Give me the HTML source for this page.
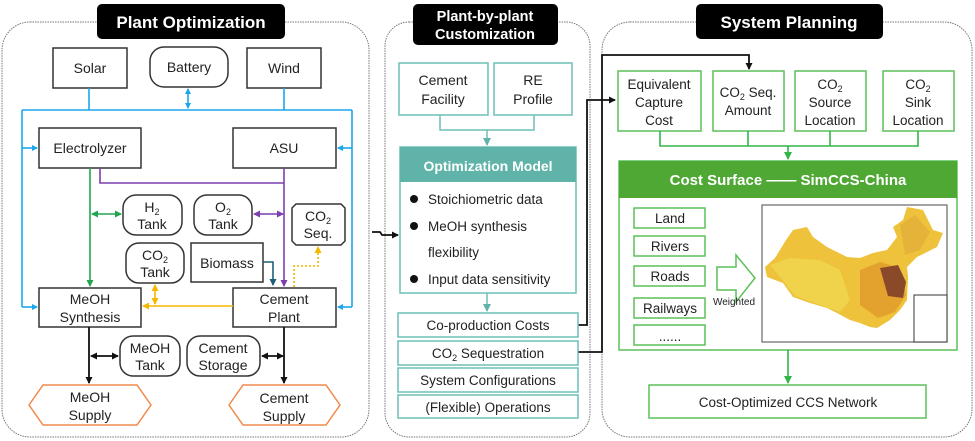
<!DOCTYPE html>
<html><head><meta charset="utf-8"><style>
html,body{margin:0;padding:0;background:#fff}
svg{display:block}
text{font-family:"Liberation Sans",sans-serif;fill:#222}
</style></head><body>
<svg width="975" height="441" viewBox="0 0 975 441" xmlns="http://www.w3.org/2000/svg">
<defs>
<marker id="ab" markerWidth="6" markerHeight="6" refX="5" refY="3" orient="auto-start-reverse" markerUnits="userSpaceOnUse"><path d="M0,0 L6,3 L0,6 z" fill="#1aa7ec"/></marker>
<marker id="ag" markerWidth="7" markerHeight="7" refX="6" refY="3.5" orient="auto-start-reverse" markerUnits="userSpaceOnUse"><path d="M0,0 L7,3.5 L0,7 z" fill="#21a650"/></marker>
<marker id="ap" markerWidth="7" markerHeight="7" refX="6" refY="3.5" orient="auto-start-reverse" markerUnits="userSpaceOnUse"><path d="M0,0 L7,3.5 L0,7 z" fill="#7b3fb0"/></marker>
<marker id="ao" markerWidth="7" markerHeight="7" refX="6" refY="3.5" orient="auto-start-reverse" markerUnits="userSpaceOnUse"><path d="M0,0 L7,3.5 L0,7 z" fill="#f5b700"/></marker>
<marker id="ak" markerWidth="7" markerHeight="7" refX="6" refY="3.5" orient="auto-start-reverse" markerUnits="userSpaceOnUse"><path d="M0,0 L7,3.5 L0,7 z" fill="#111"/></marker>
<marker id="at" markerWidth="7" markerHeight="7" refX="6" refY="3.5" orient="auto" markerUnits="userSpaceOnUse"><path d="M0,0 L7,3.5 L0,7 z" fill="#1d5f7a"/></marker>
<marker id="aq" markerWidth="8" markerHeight="8" refX="7" refY="4" orient="auto" markerUnits="userSpaceOnUse"><path d="M0,0 L8,4 L0,8 z" fill="#5fb3a9"/></marker>
<marker id="agg" markerWidth="8" markerHeight="8" refX="7" refY="4" orient="auto" markerUnits="userSpaceOnUse"><path d="M0,0 L8,4 L0,8 z" fill="#33b54a"/></marker>
</defs>

<!-- Panels -->
<rect x="2" y="22" width="367" height="415" rx="28" fill="none" stroke="#777" stroke-width="1" stroke-dasharray="1.5,1"/>
<rect x="385" y="22" width="205" height="415" rx="24" fill="none" stroke="#777" stroke-width="1" stroke-dasharray="1.5,1"/>
<rect x="602" y="22" width="370" height="415" rx="28" fill="none" stroke="#777" stroke-width="1" stroke-dasharray="1.5,1"/>

<!-- Titles -->
<rect x="97" y="4" width="188" height="35" rx="5" fill="#000"/>
<text x="191" y="28" font-size="17" font-weight="bold" text-anchor="middle" style="fill:#fff">Plant Optimization</text>
<rect x="413" y="4" width="145" height="41" rx="5" fill="#000"/>
<text x="485" y="21" font-size="14.5" font-weight="bold" text-anchor="middle" style="fill:#fff">Plant-by-plant</text>
<text x="485" y="39" font-size="14.5" font-weight="bold" text-anchor="middle" style="fill:#fff">Customization</text>
<rect x="696" y="4" width="187" height="35" rx="5" fill="#000"/>
<text x="789" y="28" font-size="17" font-weight="bold" text-anchor="middle" style="fill:#fff">System Planning</text>

<!-- Panel 1 -->
<g stroke="#333" stroke-width="1.5" fill="#fff">
<rect x="53" y="48" width="74" height="40"/>
<rect x="150" y="47" width="78" height="40" rx="14"/>
<rect x="247" y="48" width="74" height="40"/>
<rect x="39" y="128" width="102" height="40"/>
<rect x="233" y="128" width="103" height="40"/>
<rect x="123" y="195" width="59" height="40" rx="13"/>
<rect x="194" y="195" width="58" height="40" rx="13"/>
<path d="M296,204 H341 L345,208 V241 L341,245 H296 L292,241 V208 Z"/>
<rect x="126" y="243" width="58" height="40" rx="13"/>
<rect x="191" y="243" width="72" height="39"/>
<rect x="39" y="288" width="102" height="39"/>
<rect x="233" y="288" width="103" height="39"/>
<rect x="120" y="336" width="60" height="40" rx="13"/>
<rect x="187" y="336" width="73" height="40" rx="13"/>
</g>
<path d="M29,405 L43,385 H137 L151,405 L137,425 H43 Z" fill="#fff" stroke="#f08a4b" stroke-width="1.5"/>
<path d="M229,405 L243,385 H326 L340,405 L326,425 H243 Z" fill="#fff" stroke="#f08a4b" stroke-width="1.5"/>
<g font-size="14" text-anchor="middle">
<text x="90" y="73">Solar</text>
<text x="189" y="72">Battery</text>
<text x="284" y="73">Wind</text>
<text x="90" y="153">Electrolyzer</text>
<text x="284" y="153">ASU</text>
<text x="152" y="212">H<tspan font-size="9" dy="3">2</tspan></text>
<text x="152" y="229">Tank</text>
<text x="223" y="212">O<tspan font-size="9" dy="3">2</tspan></text>
<text x="223" y="229">Tank</text>
<text x="318" y="221">CO<tspan font-size="9" dy="3">2</tspan></text>
<text x="318" y="238">Seq.</text>
<text x="155" y="260">CO<tspan font-size="9" dy="3">2</tspan></text>
<text x="155" y="277">Tank</text>
<text x="227" y="268">Biomass</text>
<text x="90" y="304">MeOH</text>
<text x="90" y="322">Synthesis</text>
<text x="284" y="304">Cement</text>
<text x="284" y="322">Plant</text>
<text x="150" y="353">MeOH</text>
<text x="150" y="370">Tank</text>
<text x="223" y="353">Cement</text>
<text x="223" y="370">Storage</text>
<text x="90" y="402">MeOH</text>
<text x="90" y="420">Supply</text>
<text x="284" y="403">Cement</text>
<text x="284" y="421">Supply</text>
</g>
<!-- blue -->
<g stroke="#1aa7ec" stroke-width="1.6" fill="none">
<path d="M89,88 V110 M284,88 V110 M22,110 H352 M22,110 V307 M352,110 V307"/>
<path d="M22,148 H37" marker-end="url(#ab)"/>
<path d="M22,307 H37" marker-end="url(#ab)"/>
<path d="M352,148 H338" marker-end="url(#ab)"/>
<path d="M352,307 H338" marker-end="url(#ab)"/>
<path d="M188,89 V108" marker-start="url(#ab)" marker-end="url(#ab)"/>
</g>
<!-- green -->
<g stroke="#21a650" stroke-width="1.6" fill="none">
<path d="M90,168 V286" marker-end="url(#ag)"/>
<path d="M92,214 H121" marker-start="url(#ag)" marker-end="url(#ag)"/>
</g>
<!-- purple -->
<g stroke="#7b3fb0" stroke-width="1.6" fill="none">
<path d="M100,168 V183 H284"/>
<path d="M284,168 V286" marker-end="url(#ap)"/>
<path d="M254,214 H283" marker-start="url(#ap)" marker-end="url(#ap)"/>
</g>
<path d="M263,262 H273 V285" stroke="#1d5f7a" stroke-width="1.6" fill="none" marker-end="url(#at)"/>
<!-- orange -->
<g stroke="#f5b700" stroke-width="1.6" fill="none">
<path d="M233,306 H143" marker-end="url(#ao)"/>
<path d="M155,285 V304" marker-start="url(#ao)" marker-end="url(#ao)"/>
<path d="M294,287 V266 H318 V247" stroke-dasharray="2,2" marker-end="url(#ao)"/>
</g>
<!-- black -->
<g stroke="#111" stroke-width="1.8" fill="none">
<path d="M89,327 V383" marker-end="url(#ak)"/>
<path d="M284,327 V383" marker-end="url(#ak)"/>
<path d="M91,356 H118" marker-start="url(#ak)" marker-end="url(#ak)"/>
<path d="M262,356 H283" marker-start="url(#ak)" marker-end="url(#ak)"/>
<path d="M372,232 H380 L382,235 H398" marker-end="url(#ak)"/>
<path d="M578,325 H587 V100 H615" marker-end="url(#ak)"/>
<path d="M578,352 H602 V55 H749 V69" marker-end="url(#ak)"/>
</g>

<!-- Panel 2 -->
<g stroke="#6cc0b5" stroke-width="1.5" fill="#fff">
<rect x="399" y="63" width="89" height="52"/>
<rect x="494" y="63" width="78" height="52"/>
<rect x="400" y="147" width="176" height="146"/>
<rect x="398" y="313" width="180" height="24"/>
<rect x="398" y="341" width="180" height="24"/>
<rect x="398" y="368" width="180" height="24"/>
<rect x="398" y="395" width="180" height="23"/>
</g>
<rect x="400" y="147" width="176" height="35" fill="#5fb3a9"/>
<g stroke="#6cc0b5" stroke-width="1.5" fill="none">
<path d="M440,115 V130 H534 V115"/>
<path d="M487,130 V145" marker-end="url(#aq)"/>
<path d="M487,293 V311" marker-end="url(#aq)"/>
</g>
<g font-size="14" text-anchor="middle">
<text x="443" y="85">Cement</text>
<text x="443" y="104">Facility</text>
<text x="533" y="85">RE</text>
<text x="533" y="104">Profile</text>
<text x="488" y="171" font-weight="bold" style="fill:#fff">Optimization Model</text>
</g>
<g font-size="13.5">
<circle cx="414" cy="199" r="4" fill="#111"/><text x="428" y="204">Stoichiometric data</text>
<circle cx="414" cy="226" r="4" fill="#111"/><text x="428" y="231">MeOH synthesis</text>
<text x="428" y="257">flexibility</text>
<circle cx="414" cy="279" r="4" fill="#111"/><text x="428" y="284">Input data sensitivity</text>
</g>
<g font-size="13.5" text-anchor="middle">
<text x="488" y="330">Co-production Costs</text>
<text x="488" y="358">CO<tspan font-size="9" dy="3">2</tspan><tspan dy="-3"> Sequestration</tspan></text>
<text x="488" y="385">System Configurations</text>
<text x="488" y="412">(Flexible) Operations</text>
</g>

<!-- Panel 3 -->
<g stroke="#5cc15a" stroke-width="1.5" fill="#fff">
<rect x="618" y="71" width="83" height="60"/>
<rect x="713" y="71" width="71" height="60"/>
<rect x="795" y="71" width="71" height="60"/>
<rect x="883" y="71" width="71" height="60"/>
<rect x="619" y="161" width="338" height="189"/>
<rect x="634" y="208" width="71" height="20"/>
<rect x="634" y="236" width="71" height="20"/>
<rect x="634" y="266" width="71" height="20"/>
<rect x="634" y="298" width="71" height="20"/>
<rect x="634" y="325" width="71" height="20"/>
<rect x="649" y="385" width="277" height="33"/>
<path d="M717,267 H736 V255 L755,278 L736,302 V290 H717 Z"/>
</g>
<rect x="619" y="161" width="338" height="37" fill="#4ea833"/>
<g stroke="#33b54a" stroke-width="1.6" fill="none">
<path d="M660,131 V146 H918 V131 M748,131 V146 M830,131 V146"/>
<path d="M788,146 V159" marker-end="url(#agg)"/>
<path d="M788,350 V383" marker-end="url(#agg)"/>
</g>
<g font-size="13.5" text-anchor="middle">
<text x="659" y="89">Equivalent</text>
<text x="659" y="107">Capture</text>
<text x="659" y="125">Cost</text>
<text x="748" y="97">CO<tspan font-size="9" dy="3">2</tspan><tspan dy="-3"> Seq.</tspan></text>
<text x="748" y="115">Amount</text>
<text x="830" y="89">CO<tspan font-size="9" dy="3">2</tspan></text>
<text x="830" y="107">Source</text>
<text x="830" y="125">Location</text>
<text x="918" y="89">CO<tspan font-size="9" dy="3">2</tspan></text>
<text x="918" y="107">Sink</text>
<text x="918" y="125">Location</text>
<text x="788" y="185" font-weight="bold" font-size="15" style="fill:#fff">Cost Surface —— SimCCS-China</text>
<text x="670" y="223">Land</text>
<text x="670" y="251">Rivers</text>
<text x="670" y="281">Roads</text>
<text x="670" y="313">Railways</text>
<text x="670" y="341">......</text>
<text x="734" y="305" font-size="10">Weighted</text>
<text x="788" y="407">Cost-Optimized CCS Network</text>
</g>
<!-- map -->
<rect x="762" y="205" width="185" height="137" fill="#fff" stroke="#666" stroke-width="1.2"/>
<path d="M765,267 L775,258 L786,240 L793,230 L807,227 L813,237 L827,247 L847,257 L860,258 L873,253 L887,250 L897,237 L893,227 L903,220 L907,207 L923,210 L933,230 L943,233 L937,247 L917,257 L907,267 L908,277 L907,300 L900,310 L890,320 L877,328 L870,327 L860,323 L850,320 L837,313 L827,308 L810,303 L793,297 L783,283 L767,277 Z" fill="#eec23a"/>
<path d="M770,265 L790,258 L820,260 L840,270 L850,300 L840,312 L820,305 L795,296 L784,282 Z" fill="#f0d650" opacity="0.8"/>
<path d="M860,270 L880,262 L900,268 L906,295 L895,312 L878,318 L860,305 Z" fill="#e09a2a" opacity="0.8"/>
<path d="M880,268 L898,265 L906,282 L903,298 L888,296 Z" fill="#8a4a2a"/>
<path d="M900,225 L915,215 L930,232 L920,250 L905,255 Z" fill="#e0a838" opacity="0.6"/>
<rect x="914" y="295" width="33" height="47" fill="#fff" stroke="#333" stroke-width="1"/>
</svg>
</body></html>
